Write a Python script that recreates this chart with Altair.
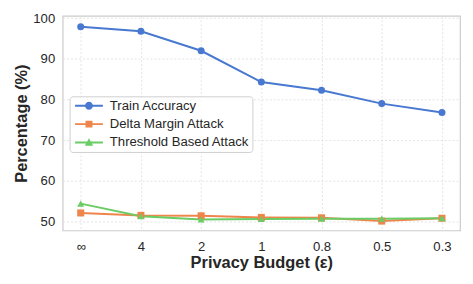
import altair as alt
import pandas as pd

epsilons = ["∞", "4", "2", "1", "0.8", "0.5", "0.3"]
series_names = ["Train Accuracy", "Delta Margin Attack", "Threshold Based Attack"]
train_acc = [97.9, 96.8, 92.0, 84.3, 82.3, 79.0, 76.8]
delta_margin = [52.1, 51.5, 51.4, 51.0, 50.9, 50.1, 50.8]
threshold = [54.4, 51.3, 50.5, 50.6, 50.7, 50.7, 50.8]
colors = ["#4878d0", "#ee854a", "#6acc64"]
shapes = ["circle", "square", "triangle-up"]

# legend glyphs: a short line with the marker on it (unit = 7px, shifted right)
dx = 1.43
LINE = f"M{dx-2},-0.14H{dx+2}V0.14H{dx-2}Z"
legend_glyphs = [
    LINE + f" M{dx+0.57},0 A0.57,0.57 0 1,1 {dx-0.57},0 A0.57,0.57 0 1,1 {dx+0.57},0Z",
    LINE + f" M{dx-0.5},-0.5H{dx+0.5}V0.5H{dx-0.5}Z",
    LINE + f" M{dx},-0.6L{dx+0.6},0.45H{dx-0.6}Z",
]

rows = []
for name, vals in zip(series_names, [train_acc, delta_margin, threshold]):
    for e, v in zip(epsilons, vals):
        rows.append({"eps": e, "series": name, "value": v})
df = pd.DataFrame(rows)

FONT = "Liberation Sans"

x = alt.X("eps:N", sort=epsilons, scale=alt.Scale(type="point", padding=0.3),
          axis=alt.Axis(title="Privacy Budget (ε)", labelAngle=0))
y = alt.Y("value:Q", scale=alt.Scale(domain=[47.8, 100.6], nice=False, zero=False),
          axis=alt.Axis(title="Percentage (%)", values=[50, 60, 70, 80, 90, 100]))

color_scale = alt.Scale(domain=series_names, range=colors)

lines = alt.Chart(df).mark_line(strokeWidth=2).encode(
    x=x, y=y,
    color=alt.Color("series:N", scale=color_scale, legend=None),
)

points = alt.Chart(df).mark_point(filled=True, size=50, opacity=1).encode(
    x=x, y=y,
    color=alt.Color("series:N", scale=color_scale, legend=None),
    shape=alt.Shape("series:N", scale=alt.Scale(domain=series_names, range=shapes), legend=None),
)

legend_layer = alt.Chart(df).transform_filter("false").mark_point(filled=True, opacity=1).encode(
    x=x, y=y,
    color=alt.Color("series:N", scale=color_scale,
                    legend=alt.Legend(title=None, orient="none", legendX=7, legendY=81,
                                      symbolSize=196, symbolOpacity=1, symbolStrokeWidth=0,
                                      labelFontSize=13.2, labelFont=FONT, labelColor="#262626",
                                      rowPadding=4.5, labelOffset=24, padding=2.5,
                                      fillColor="rgba(255,255,255,0.8)", strokeColor="#d0d0d0",
                                      cornerRadius=3)),
    shape=alt.Shape("series:N", scale=alt.Scale(domain=series_names, range=legend_glyphs)),
)

chart = alt.layer(lines, points, legend_layer).resolve_scale(
    color="independent", shape="independent"
).properties(
    width=400, height=216,
    padding={"top": 2, "left": 5, "right": 5, "bottom": 5}
).configure_view(
    stroke="#cccccc", strokeWidth=1.2
).configure_axis(
    grid=True, gridColor="#dddddd", gridDash=[2, 2], gridWidth=0.8,
    domain=False, ticks=False,
    labelFont=FONT, labelFontSize=13.2, labelColor="#262626",
    titleFont=FONT, titleFontSize=16.5, titleFontWeight="bold", titleColor="#262626",
).configure_axisY(
    labelPadding=8, titlePadding=3
).configure_axisX(
    labelPadding=10, titlePadding=2.5
)

chart.save("out.html", embed_options={"renderer": "svg", "actions": False})
